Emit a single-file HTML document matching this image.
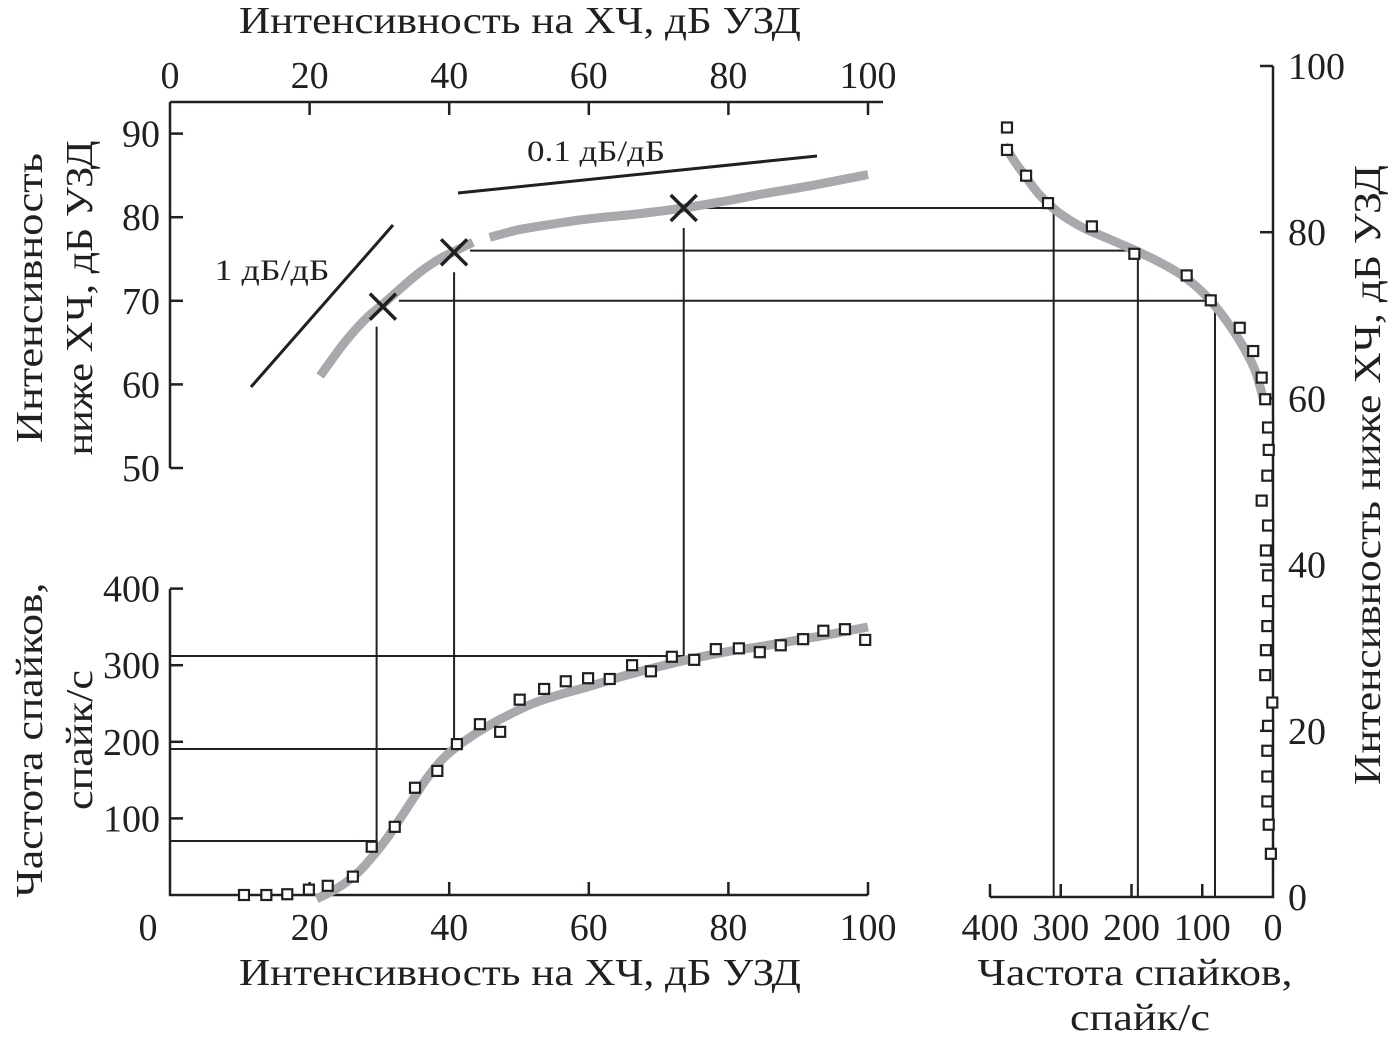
<!DOCTYPE html>
<html><head><meta charset="utf-8"><style>
html,body{margin:0;padding:0;background:#fff;}
svg{display:block;}
text{font-family:"Liberation Serif","DejaVu Serif",serif;fill:#231f20;}
</style></head><body>
<svg id="chart" width="1394" height="1045" viewBox="0 0 1394 1045" xmlns="http://www.w3.org/2000/svg"></svg>
<script>
// ---- data ----
const topTicksX = [0,20,40,60,80,100];
const topTicksY = [50,60,70,80,90];
const ioCurveAx = [21.5,25,28,30.5,35,38,40.7,43.4];
const ioCurveAy = [61,65,67.8,69.6,72.9,74.7,75.9,77];
const ioCurveBx = [45.8,50,55,60,67,73.6,80,85,92,100];
const ioCurveBy = [77.6,78.5,79.2,79.8,80.4,81.1,82,82.8,83.8,85.1];
const markersIn = [30.5,40.7,73.6];
const markersOut = [69.3,75.8,81.1];
const guideIn = [29.6,40.7,73.6];
const guideOut = [70.0,76.0,81.1];
const guideRate = [70.5,190.6,312];
const guideRightRate = [82,191,310];

const botTicksX = [0,20,40,60,80,100];
const botTicksY = [100,200,300,400];
const rateX = [10.6,13.8,16.8,19.9,22.6,26.2,28.9,32.2,35.1,38.3,41.1,44.4,47.3,50.1,53.6,56.7,59.9,63.0,66.2,68.9,71.9,75.1,78.2,81.5,84.5,87.5,90.7,93.6,96.7,99.6];
const rateY = [0,0,1,7,12,24,63,89,140,162,197,223,213,255,269,279,283,282,300,292,311,307,321,322,317,326,334,345,347,333];
const rateCurveX = [21,23,25,27,29,31,33,35,37,39,41,44,47,52,56,60,65,70,75,80,85,90,95,100];
const rateCurveY = [-5,4,15,30,50,73,100,128,155,177,193,212,228,250,262,272,286,298,309,318,325,333,341,350];

const rTicksX = [0,100,200,300,400];
const rTicksY = [0,20,40,60,80,100];
const rLevel = [92.6,89.9,86.8,83.5,80.7,77.4,74.8,71.8,68.5,65.7,62.5,59.9,56.5,53.8,50.7,47.7,44.7,41.7,38.7,35.6,32.6,29.7,26.7,23.4,20.6,17.6,14.5,11.5,8.7,5.2];
const rRate = [376,376,349,318,256,196,122,88,47,28,16,11,7,6,8,16,7,10,7,7,8,10,11,1,7,8,8,8,6,3];
const rCurveRate = [380,365,348,330,305,270,235,200,165,130,100,75,55,38,25,18,14];
const rCurveLevel = [90.5,88.5,86.5,84.5,82.5,80.6,79.3,78,76.6,74.9,72.8,70.4,68,65.6,63.3,61.3,60];

// ---- scales ----
const tx = v => 170 + v*6.98;
const ty = v => 468 - (v-50)*8.36;
const bx = v => 170 + v*6.98;
const by = v => 895 - v*0.766;
const rx = v => 1273 - v*0.7075;
const ry = v => 897 - v*8.31;

const svg = document.getElementById('chart');
const NS = 'http://www.w3.org/2000/svg';
const K = '#231f20';
function el(tag, attrs, parent){
  const e = document.createElementNS(NS, tag);
  for (const k in attrs) e.setAttribute(k, attrs[k]);
  (parent||svg).appendChild(e);
  return e;
}
function txt(s, x, y, size, anchor, parent, len){
  const t = el('text', {x:x, y:y, 'font-size':size, 'text-anchor':anchor||'middle'}, parent);
  t.textContent = s;
  if (len) { t.setAttribute('textLength', len); t.setAttribute('lengthAdjust', 'spacingAndGlyphs'); }
  return t;
}
function pathFrom(xs, ys, fx, fy){
  const p = xs.map((x,i)=>[fx(x), fy(ys[i])]);
  let d = 'M' + p[0][0].toFixed(1) + ' ' + p[0][1].toFixed(1);
  for (let i=0;i<p.length-1;i++){
    const p0 = p[i-1]||p[i], p1=p[i], p2=p[i+1], p3=p[i+2]||p2;
    const c1x = p1[0]+(p2[0]-p0[0])/6, c1y = p1[1]+(p2[1]-p0[1])/6;
    const c2x = p2[0]-(p3[0]-p1[0])/6, c2y = p2[1]-(p3[1]-p1[1])/6;
    d += ` C${c1x.toFixed(1)} ${c1y.toFixed(1)} ${c2x.toFixed(1)} ${c2y.toFixed(1)} ${p2[0].toFixed(1)} ${p2[1].toFixed(1)}`;
  }
  return d;
}
function square(cx, cy, parent){
  const r = el('rect', {x:cx-5, y:cy-5, width:10, height:10, fill:'#fff', stroke:K, 'stroke-width':2.2}, parent);
  
  
}

// ===== guide lines =====
const gG = el('g', {stroke:K, 'stroke-width':2, fill:'none'});


guideIn.forEach((v,i) => {
  const xv = tx(v), yh = ty(guideOut[i]), yb = by(guideRate[i]), xr = rx(guideRightRate[i]);
  const mx = tx(markersIn[i]), my = ty(markersOut[i]);
  el('line', {x1:xv, x2:xv, y1:my+20, y2:yb}, gG);
  el('line', {x1:170, x2:xv, y1:yb, y2:yb}, gG);
  el('line', {x1:mx+16, x2:xr, y1:yh, y2:yh}, gG);
  el('line', {x1:xr, x2:xr, y1:yh, y2:ry(0)}, gG);
});

// ===== TOP PANEL =====
const gTop = el('g', {});


let a = el('path', {d:'M170 102 H883 M170 102 V468', stroke:K, 'stroke-width':2.5, fill:'none'}, gTop);


topTicksX.forEach(v => {
  if (v>0) el('line', {x1:tx(v), x2:tx(v), y1:102, y2:115, stroke:K, 'stroke-width':2.5}, gTop);
  const t = txt(String(v), tx(v), 88, 38, 'middle', gTop);
  
  
});
topTicksY.forEach(v => {
  el('line', {x1:170, x2:183, y1:ty(v), y2:ty(v), stroke:K, 'stroke-width':2.5}, gTop);
  const t = txt(String(v), 160, ty(v)+13, 38, 'end', gTop);
  
  
});
let tt = txt('Интенсивность на ХЧ, дБ УЗД', 520, 33, 38, 'middle', gTop, 562);


let ly = el('g', {transform:'translate(42,298) rotate(-90)'}, gTop);


txt('Интенсивность', 0, 0, 38, 'middle', ly, 290);
txt('ниже ХЧ, дБ УЗД', 0, 50, 38, 'middle', ly, 315);

let s1 = el('line', {x1:251, y1:387, x2:393, y2:225, stroke:K, 'stroke-width':3}, gTop);


let s2 = el('line', {x1:458, y1:193, x2:817, y2:156, stroke:K, 'stroke-width':3}, gTop);


let l1 = txt('1 дБ/дБ', 272, 280, 30, 'middle', gTop, 115);


let l2 = txt('0.1 дБ/дБ', 596, 161, 30, 'middle', gTop, 138);



let c1 = el('path', {d:pathFrom(ioCurveAx, ioCurveAy, tx, ty), stroke:'#a7a9ac', 'stroke-width':9, fill:'none'}, gTop);


let c2 = el('path', {d:pathFrom(ioCurveBx, ioCurveBy, tx, ty), stroke:'#a7a9ac', 'stroke-width':9, fill:'none'}, gTop);


markersIn.forEach((v,i) => {
  const x = tx(v), y = ty(markersOut[i]);
  const m = el('path', {d:`M${x-13} ${y-13} L${x+13} ${y+13} M${x-13} ${y+13} L${x+13} ${y-13}`, stroke:K, 'stroke-width':3.5, fill:'none'}, gTop);
  
  
});

// ===== BOTTOM PANEL =====
const gBot = el('g', {});


let ba = el('path', {d:'M170 589 V895 H868', stroke:K, 'stroke-width':2.5, fill:'none'}, gBot);


botTicksX.forEach(v => {
  if (v>0) el('line', {x1:bx(v), x2:bx(v), y1:895, y2:882, stroke:K, 'stroke-width':2.5}, gBot);
  const t = txt(String(v), v===0 ? 148 : bx(v), 940, 38, 'middle', gBot);
  
  
});
botTicksY.forEach(v => {
  el('line', {x1:170, x2:183, y1:by(v), y2:by(v), stroke:K, 'stroke-width':2.5}, gBot);
  const t = txt(String(v), 160, by(v)+13, 38, 'end', gBot);
  
  
});
let bt = txt('Интенсивность на ХЧ, дБ УЗД', 520, 985, 38, 'middle', gBot, 562);


let bly = el('g', {transform:'translate(42,740) rotate(-90)'}, gBot);


txt('Частота спайков,', 0, 0, 38, 'middle', bly, 315);
txt('спайк/с', 0, 50, 38, 'middle', bly, 140);
let rc = el('path', {d:pathFrom(rateCurveX, rateCurveY, bx, by), stroke:'#a7a9ac', 'stroke-width':9, fill:'none'}, gBot);


rateX.forEach((v,i) => square(bx(v), by(rateY[i]), gBot));

// ===== RIGHT PANEL =====
const gR = el('g', {});


let ra = el('path', {d:'M990 897 H1273 V66', stroke:K, 'stroke-width':2.5, fill:'none'}, gR);


rTicksX.forEach(v => {
  if (v>0) el('line', {x1:rx(v), x2:rx(v), y1:897, y2:884, stroke:K, 'stroke-width':2.5}, gR);
  const t = txt(String(v), rx(v), 940, 38, 'middle', gR);
  
  
});
rTicksY.forEach(v => {
  if (v>0) el('line', {x1:1260, x2:1273, y1:ry(v), y2:ry(v), stroke:K, 'stroke-width':2.5}, gR);
  const t = txt(String(v), 1288, ry(v)+13, 38, 'start', gR);
  
  
});
let rxt = el('g', {}, gR);


txt('Частота спайков,', 1135, 985, 38, 'middle', rxt, 315);
txt('спайк/с', 1140, 1030, 38, 'middle', rxt, 140);
let ryt = el('g', {transform:'translate(1380,475) rotate(-90)'}, gR);


txt('Интенсивность ниже ХЧ, дБ УЗД', 0, 0, 38, 'middle', ryt, 620);
let rcc = el('path', {d:pathFrom(rCurveRate, rCurveLevel, rx, ry), stroke:'#a7a9ac', 'stroke-width':9, fill:'none'}, gR);


rRate.forEach((v,i) => square(rx(v), ry(rLevel[i]), gR));
</script>
</body></html>
